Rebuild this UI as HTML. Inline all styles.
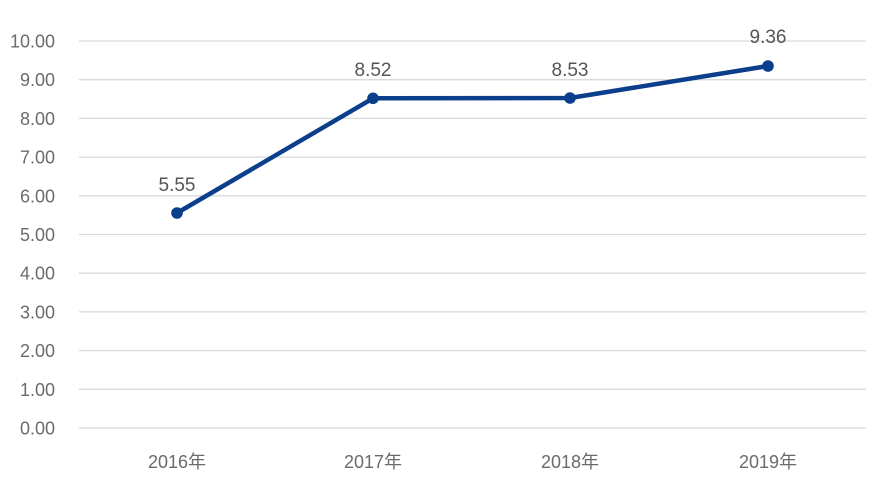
<!DOCTYPE html><html><head><meta charset="utf-8"><style>body{margin:0;background:#fff}</style></head><body>
<svg width="884" height="487" xmlns="http://www.w3.org/2000/svg" font-family="Liberation Sans, Noto Sans CJK SC, sans-serif">
<g stroke="#d9d9d9" stroke-width="1.3">
<line x1="79" x2="866" y1="41" y2="41"/><line x1="79" x2="866" y1="79.7" y2="79.7"/><line x1="79" x2="866" y1="118.4" y2="118.4"/><line x1="79" x2="866" y1="157.1" y2="157.1"/><line x1="79" x2="866" y1="195.8" y2="195.8"/><line x1="79" x2="866" y1="234.5" y2="234.5"/><line x1="79" x2="866" y1="273.2" y2="273.2"/><line x1="79" x2="866" y1="311.9" y2="311.9"/><line x1="79" x2="866" y1="350.6" y2="350.6"/><line x1="79" x2="866" y1="389.3" y2="389.3"/><line x1="79" x2="866" y1="428" y2="428"/>
</g>
<g fill="#6b6b6b" font-size="18" text-anchor="end">
<text x="55" y="47.5">10.00</text><text x="55" y="86.2">9.00</text><text x="55" y="124.9">8.00</text><text x="55" y="163.6">7.00</text><text x="55" y="202.3">6.00</text><text x="55" y="241">5.00</text><text x="55" y="279.7">4.00</text><text x="55" y="318.4">3.00</text><text x="55" y="357.1">2.00</text><text x="55" y="395.8">1.00</text><text x="55" y="434.5">0.00</text>
</g>
<g fill="#6b6b6b" font-size="18" text-anchor="middle">
<text x="177" y="468">2016年</text><text x="373" y="468">2017年</text><text x="570" y="468">2018年</text><text x="768" y="468">2019年</text>
</g>
<polyline points="177,213 373,98.3 570,98 768,66" fill="none" stroke="#0b3f8c" stroke-width="4.5" stroke-linejoin="round"/>
<g fill="#0b3f8c"><circle cx="177" cy="213" r="5.8"/><circle cx="373" cy="98.3" r="5.8"/><circle cx="570" cy="98" r="5.8"/><circle cx="768" cy="66" r="5.8"/></g>
<g fill="#555" font-size="19" text-anchor="middle">
<text x="177" y="191">5.55</text><text x="373" y="76">8.52</text><text x="570" y="76">8.53</text><text x="768" y="43">9.36</text>
</g>
</svg></body></html>
